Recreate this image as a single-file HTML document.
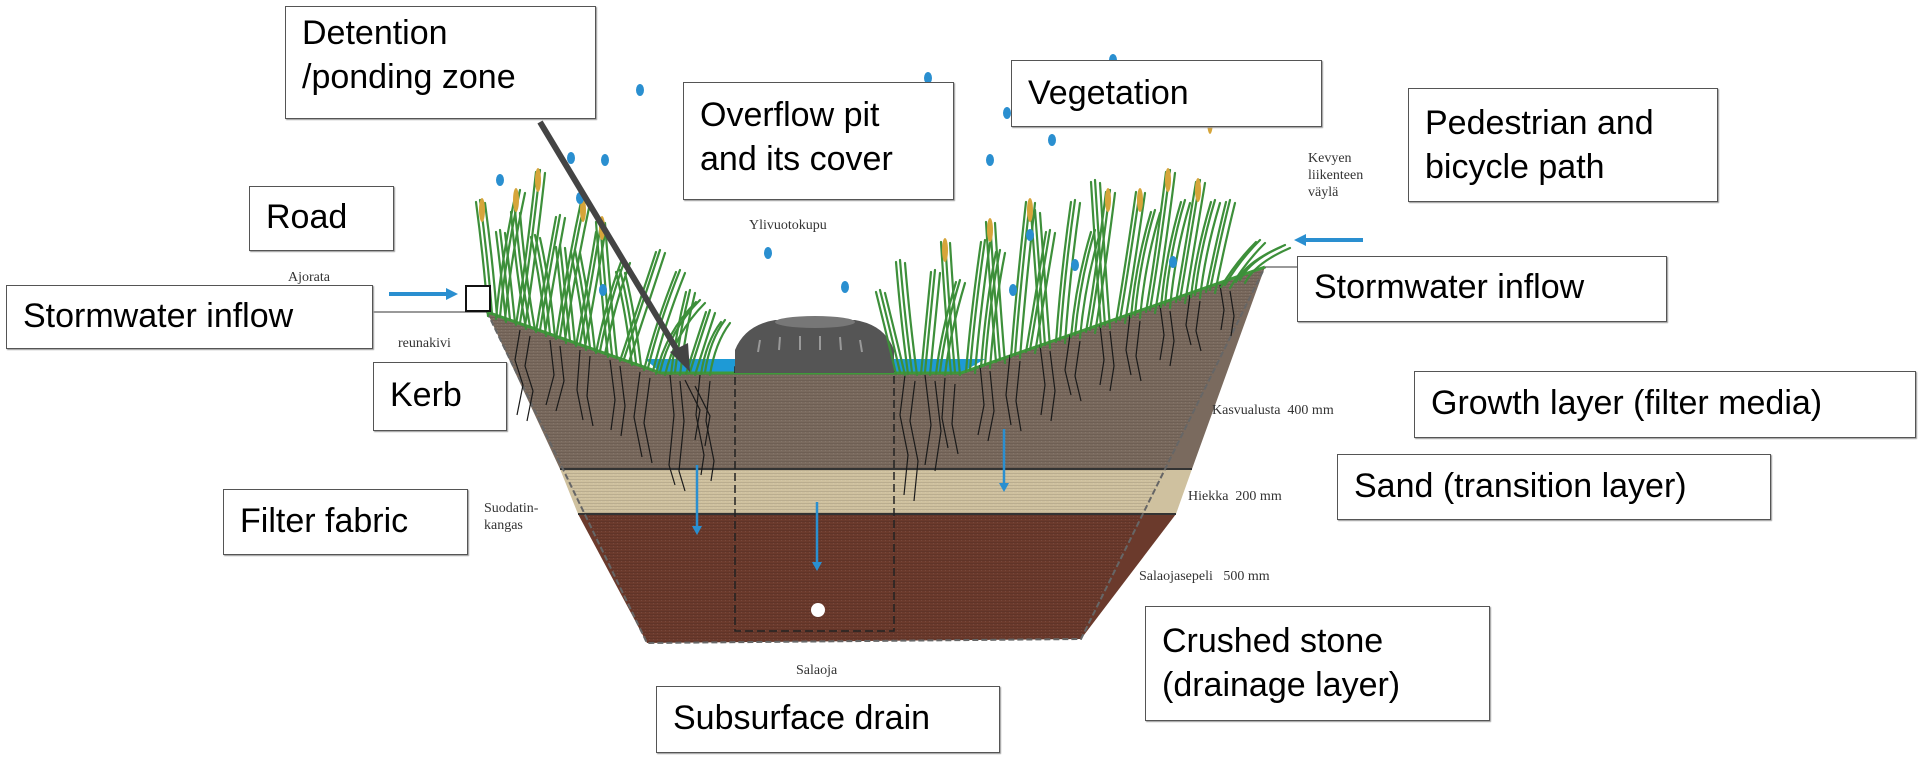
<!DOCTYPE html>
<html><head><meta charset="utf-8"><style>
html,body{margin:0;padding:0;background:#fff;}
body{width:1920px;height:769px;position:relative;overflow:hidden;font-family:"Liberation Sans",Arial,sans-serif;}
.b{position:absolute;background:#fff;border:1.5px solid #555;box-sizing:border-box;font-size:34px;line-height:44px;color:#000;padding:4px 16px;box-shadow:1px 1px 1px #999;}
.f{position:absolute;font-family:"Liberation Serif",serif;font-size:14px;color:#333;line-height:17px;}
svg{position:absolute;left:0;top:0;}
</style></head><body>
<svg width="1920" height="769" viewBox="0 0 1920 769">
<defs>
<pattern id="tx" width="4" height="3" patternUnits="userSpaceOnUse"><rect width="4" height="3" fill="none"/><rect y="2" width="4" height="1" fill="rgba(0,0,0,0.1)"/><rect x="1" width="1" height="1" fill="rgba(255,255,255,0.08)"/></pattern>
</defs>
<polygon points="487,312 661,373 961,373 1265,267 1192,469 560,469" fill="#7a6a5e"/>
<polygon points="560,469 1192,469 1176,514 578,514" fill="#cfc19f"/>
<polygon points="578,514 1176,514 1081,639 647,643" fill="#6b3a2c"/>
<polygon points="487,312 661,373 961,373 1265,267 1081,639 647,643" fill="url(#tx)"/>
<line x1="560" y1="469" x2="1192" y2="469" stroke="#333" stroke-width="2"/>
<line x1="578" y1="514" x2="1176" y2="514" stroke="#333" stroke-width="2"/>
<polyline points="487,312 647,643 1081,639 1265,267" fill="none" stroke="#666" stroke-width="2" stroke-dasharray="6,3"/>
<polygon points="645,359 661,373 961,373 985,359" fill="#1e9ad6"/>
<polyline points="487,312 661,373 961,373 1265,267" fill="none" stroke="#3f9a3a" stroke-width="3"/>
<rect x="735" y="367" width="159" height="264" fill="none" stroke="#222" stroke-width="1.5" stroke-dasharray="8,4"/>
<path d="M735,373 L735,350 Q745,325 775,320 L855,320 Q885,325 894,350 L894,373 Z" fill="#555"/>
<ellipse cx="815" cy="322" rx="40" ry="6" fill="#777"/>
<g stroke="#999" stroke-width="2"><line x1="760" y1="340" x2="758" y2="352"/><line x1="780" y1="337" x2="779" y2="350"/><line x1="800" y1="336" x2="800" y2="350"/><line x1="820" y1="336" x2="820" y2="350"/><line x1="840" y1="337" x2="841" y2="350"/><line x1="860" y1="340" x2="862" y2="352"/></g>
<g id="roots" stroke="#1a1a1a" stroke-width="1.2" fill="none">
<path d="M520,330 l-5,30 l8,25 l-6,30"/><path d="M550,340 l4,35 l-8,30"/><path d="M580,350 l-3,40 l6,30"/><path d="M610,360 l5,40 l-4,30"/><path d="M640,372 l-6,45 l8,40"/><path d="M670,375 l4,40 l-5,50 l6,20"/><path d="M700,375 l-4,40 l8,40 l-3,20"/><path d="M685,380 l15,30 l-5,30"/>
<path d="M905,375 l-5,40 l8,40 l-4,40"/><path d="M925,375 l6,50 l-6,40"/><path d="M945,378 l-3,40 l6,30"/><path d="M980,365 l4,40 l-6,30"/><path d="M1010,355 l-4,40 l5,30"/><path d="M1040,345 l5,40 l-4,30"/><path d="M1070,335 l-5,35 l6,25"/><path d="M1100,325 l4,35 l-4,25"/><path d="M1130,315 l-4,35 l5,25"/><path d="M1160,305 l4,30 l-4,25"/><path d="M1190,295 l-4,30 l5,20"/><path d="M1220,285 l4,25 l-3,20"/>
</g>
<use href="#roots" transform="translate(10,6)"/>
<g id="grass" stroke="#3d8f3a" stroke-width="2.2" fill="none" stroke-linecap="round">
<path d="M492,314 Q488,260 480,200"/><path d="M500,317 Q505,260 520,190"/><path d="M510,320 Q505,270 500,230"/><path d="M520,323 Q530,260 540,170"/><path d="M530,327 Q520,270 515,210"/><path d="M540,330 Q548,280 560,215"/><path d="M550,334 Q545,280 535,235"/><path d="M560,337 Q570,270 585,200"/><path d="M570,341 Q565,290 560,245"/><path d="M580,344 Q590,290 600,230"/><path d="M590,348 Q585,300 575,250"/><path d="M600,351 Q610,300 625,260"/><path d="M612,355 Q606,300 600,220"/><path d="M624,359 Q640,310 660,250"/><path d="M636,363 Q630,310 620,270"/><path d="M648,368 Q660,320 680,270"/><path d="M660,372 Q670,330 700,300"/><path d="M675,372 Q680,330 690,290"/><path d="M690,372 Q700,340 710,310"/><path d="M705,372 Q710,340 725,320"/>
<path d="M900,372 Q890,330 880,290"/><path d="M912,372 Q905,320 900,260"/><path d="M925,372 Q930,320 935,270"/><path d="M940,372 Q945,330 960,280"/><path d="M955,372 Q950,320 945,240"/><path d="M970,370 Q975,310 985,240"/><path d="M985,365 Q990,300 1000,250"/><path d="M1000,360 Q995,300 990,220"/><path d="M1015,355 Q1020,290 1030,200"/><path d="M1030,350 Q1040,290 1050,230"/><path d="M1045,345 Q1040,280 1035,210"/><path d="M1060,340 Q1065,270 1075,200"/><path d="M1075,335 Q1080,280 1095,230"/><path d="M1090,330 Q1100,270 1110,190"/><path d="M1105,325 Q1100,260 1095,180"/><path d="M1120,320 Q1130,260 1140,190"/><path d="M1135,315 Q1140,260 1155,210"/><path d="M1150,310 Q1160,250 1170,170"/><path d="M1165,305 Q1170,250 1185,200"/><path d="M1180,300 Q1190,240 1200,180"/><path d="M1195,295 Q1200,250 1215,200"/><path d="M1210,290 Q1220,240 1230,200"/><path d="M1225,285 Q1240,260 1260,240"/><path d="M1240,280 Q1250,260 1285,245"/>
</g>
<g stroke="#6fbf5a" stroke-width="2" fill="none" stroke-linecap="round" transform="translate(5,3)">
<use href="#grass" style="stroke:#6fbf5a"/>
</g>
<g transform="translate(-4,2)"><use href="#grass" style="stroke:#2f7a46"/></g>
<g fill="#d6a53a">
<ellipse cx="482" cy="210" rx="3" ry="12"/><ellipse cx="538" cy="180" rx="3" ry="12"/><ellipse cx="583" cy="210" rx="3" ry="12"/><ellipse cx="602" cy="228" rx="3" ry="12"/><ellipse cx="516" cy="200" rx="3" ry="12"/>
<ellipse cx="990" cy="230" rx="3" ry="12"/><ellipse cx="1030" cy="210" rx="3" ry="12"/><ellipse cx="1108" cy="200" rx="3" ry="12"/><ellipse cx="1168" cy="180" rx="3" ry="12"/><ellipse cx="1198" cy="190" rx="3" ry="12"/><ellipse cx="1140" cy="200" rx="3" ry="12"/><ellipse cx="1210" cy="120" rx="3" ry="14"/><ellipse cx="945" cy="250" rx="3" ry="12"/>
</g>
<g fill="#2a8fd0">
<ellipse cx="640" cy="90" rx="4" ry="6"/><ellipse cx="571" cy="158" rx="4" ry="6"/><ellipse cx="605" cy="160" rx="4" ry="6"/><ellipse cx="500" cy="180" rx="4" ry="6"/><ellipse cx="580" cy="198" rx="4" ry="6"/><ellipse cx="768" cy="253" rx="4" ry="6"/><ellipse cx="845" cy="287" rx="4" ry="6"/><ellipse cx="928" cy="78" rx="4" ry="6"/><ellipse cx="1007" cy="113" rx="4" ry="6"/><ellipse cx="1052" cy="140" rx="4" ry="6"/><ellipse cx="990" cy="160" rx="4" ry="6"/><ellipse cx="1030" cy="235" rx="4" ry="6"/><ellipse cx="1075" cy="265" rx="4" ry="6"/><ellipse cx="603" cy="290" rx="4" ry="6"/><ellipse cx="1173" cy="262" rx="4" ry="6"/><ellipse cx="1013" cy="290" rx="4" ry="6"/><ellipse cx="860" cy="135" rx="4" ry="6"/><ellipse cx="1113" cy="60" rx="4" ry="6"/>
</g>
<line x1="300" y1="312" x2="487" y2="312" stroke="#333" stroke-width="1"/>
<line x1="1265" y1="267" x2="1300" y2="267" stroke="#333" stroke-width="1"/>
<rect x="466" y="286" width="24" height="25" fill="#fff" stroke="#111" stroke-width="2"/>
<g stroke="#2a8fd0" stroke-width="4" fill="#2a8fd0">
<line x1="389" y1="294" x2="448" y2="294"/><polygon points="446,288 458,294 446,300" stroke="none"/>
<line x1="1363" y1="240" x2="1304" y2="240"/><polygon points="1306,234 1294,240 1306,246" stroke="none"/>
</g>
<g stroke="#2a8fd0" stroke-width="2.5" fill="#2a8fd0">
<line x1="697" y1="465" x2="697" y2="528"/><polygon points="692,526 697,535 702,526" stroke="none"/>
<line x1="817" y1="502" x2="817" y2="564"/><polygon points="812,562 817,571 822,562" stroke="none"/>
<line x1="1004" y1="429" x2="1004" y2="485"/><polygon points="999,483 1004,492 1009,483" stroke="none"/>
</g>
<circle cx="818" cy="610" r="7" fill="#fff"/>
<line x1="540" y1="122" x2="680" y2="355" stroke="#444" stroke-width="6"/>
<polygon points="670,352 690,372 688,343" fill="#444"/>
</svg>

<div class="f" style="left:288px;top:269px">Ajorata</div>
<div class="f" style="left:398px;top:335px">reunakivi</div>
<div class="f" style="left:749px;top:217px">Ylivuotokupu</div>
<div class="f" style="left:1308px;top:150px">Kevyen<br>liikenteen<br>väylä</div>
<div class="f" style="left:1212px;top:402px">Kasvualusta&nbsp; 400 mm</div>
<div class="f" style="left:1188px;top:488px">Hiekka&nbsp; 200 mm</div>
<div class="f" style="left:484px;top:500px">Suodatin-<br>kangas</div>
<div class="f" style="left:1139px;top:568px">Salaojasepeli&nbsp;&nbsp; 500 mm</div>
<div class="f" style="left:796px;top:662px">Salaoja</div>

<div class="b" style="left:285px;top:6px;width:311px;height:113px">Detention<br>/ponding zone</div>
<div class="b" style="left:683px;top:82px;width:271px;height:118px;padding-top:10px">Overflow pit<br>and its cover</div>
<div class="b" style="left:1011px;top:60px;width:311px;height:67px;padding-top:10px">Vegetation</div>
<div class="b" style="left:1408px;top:88px;width:310px;height:114px;padding-top:12px">Pedestrian and<br>bicycle path</div>
<div class="b" style="left:249px;top:186px;width:145px;height:65px;padding-top:8px">Road</div>
<div class="b" style="left:6px;top:285px;width:367px;height:64px;padding-top:8px">Stormwater inflow</div>
<div class="b" style="left:1297px;top:256px;width:370px;height:66px;padding-top:8px">Stormwater inflow</div>
<div class="b" style="left:373px;top:362px;width:134px;height:69px;padding-top:10px">Kerb</div>
<div class="b" style="left:1414px;top:371px;width:502px;height:67px;padding-top:9px">Growth layer (filter media)</div>
<div class="b" style="left:1337px;top:454px;width:434px;height:66px;padding-top:9px">Sand (transition layer)</div>
<div class="b" style="left:223px;top:489px;width:245px;height:66px;padding-top:9px">Filter fabric</div>
<div class="b" style="left:1145px;top:606px;width:345px;height:115px;padding-top:12px">Crushed stone<br>(drainage layer)</div>
<div class="b" style="left:656px;top:686px;width:344px;height:67px;padding-top:9px">Subsurface drain</div>
</body></html>
